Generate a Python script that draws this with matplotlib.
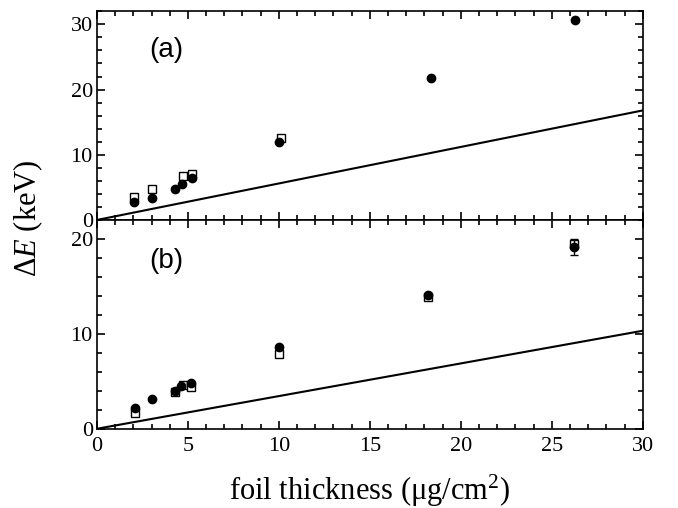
import matplotlib
matplotlib.use("Agg")
import matplotlib.pyplot as plt
import numpy as np
from matplotlib.ticker import MultipleLocator

plt.rcParams['font.family'] = ['Liberation Serif', 'DejaVu Serif']
plt.rcParams['mathtext.fontset'] = 'custom'
plt.rcParams['mathtext.rm'] = 'Liberation Serif'
plt.rcParams['mathtext.it'] = 'Liberation Serif:italic'

# panel (a)
a_circ_x = [2.05, 3.0, 4.27, 4.69, 5.2, 10.03, 18.37, 26.28]
a_circ_y = [2.7, 3.36, 4.8, 5.55, 6.46, 11.95, 21.8, 30.7]
a_sq_x = [2.05, 3.0, 4.75, 5.2, 10.1]
a_sq_y = [3.5, 4.7, 6.8, 7.1, 12.5]
a_slope = 0.56

# panel (b)
b_circ_x = [2.1, 3.0, 4.27, 4.63, 5.16, 10.0, 18.18, 26.2]
b_circ_y = [2.2, 3.09, 4.0, 4.5, 4.78, 8.62, 14.1, 19.2]
b_circ_err = [0, 0, 0, 0, 0, 0, 0, 0.8]
b_sq_x = [2.1, 4.27, 4.72, 5.16, 10.0, 18.18, 26.2]
b_sq_y = [1.7, 3.83, 4.6, 4.42, 7.88, 13.9, 19.5]
b_slope = 0.345

line_x = np.array([0, 30])

fig = plt.figure(figsize=(6.78, 5.08), dpi=100)
ax1 = fig.add_axes([0.143, 0.567, 0.805, 0.412])
ax2 = fig.add_axes([0.143, 0.156, 0.805, 0.411], sharex=ax1)

def style(ax, ymax):
    ax.set_xlim(0, 30)
    ax.set_ylim(0, ymax)
    ax.xaxis.set_major_locator(MultipleLocator(5))
    ax.xaxis.set_minor_locator(MultipleLocator(1))
    ax.yaxis.set_major_locator(MultipleLocator(10))
    ax.yaxis.set_minor_locator(MultipleLocator(2))
    ax.tick_params(which='both', direction='in', top=True, right=True,
                   labelsize=16, width=1.2)
    ax.tick_params(axis='y', pad=3)
    ax.tick_params(axis='x', pad=6)
    ax.tick_params(which='major', length=6)
    ax.tick_params(which='minor', length=3.5)
    for s in ax.spines.values():
        s.set_linewidth(1.2)

ax1.plot(line_x, a_slope * line_x, color='black', lw=1.5)
ax1.plot(a_sq_x, a_sq_y, 's', ms=5.5, mfc='white', mec='black', mew=1.0)
ax1.plot(a_circ_x, a_circ_y, 'o', ms=6, color='black')
style(ax1, 32.1)
ax1.tick_params(labelbottom=False)
ax1.text(0.095, 0.78, '(a)', transform=ax1.transAxes, fontsize=20,
         family='Liberation Sans')

ax2.plot(line_x, b_slope * line_x, color='black', lw=1.5)
ax2.plot(b_sq_x, b_sq_y, 's', ms=5.5, mfc='white', mec='black', mew=1.0)
ax2.errorbar(b_circ_x, b_circ_y, yerr=b_circ_err, fmt='o', ms=6,
             color='black', capsize=3, elinewidth=1, capthick=1)
style(ax2, 22.05)
ax2.text(0.095, 0.77, '(b)', transform=ax2.transAxes, fontsize=20,
         family='Liberation Sans')

ax2.set_xlabel(r'foil thickness ($\mathrm{\mu}$g/cm$^2$)', fontsize=22, labelpad=12)
fig.text(0.042, 0.57, r'$\Delta E$ (keV)', rotation=90, fontsize=22,
         ha='center', va='center')

fig.savefig('out.png', dpi=100)
